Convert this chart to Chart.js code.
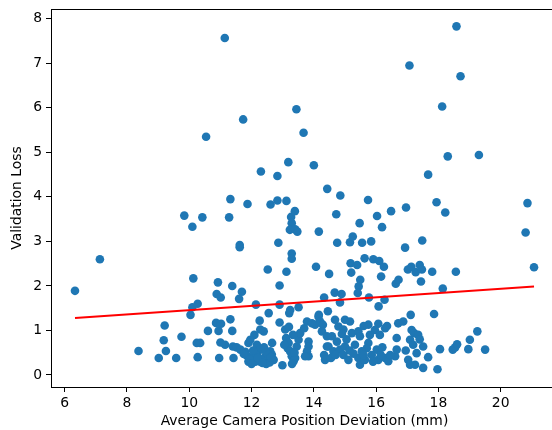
<!DOCTYPE html>
<html>
<head>
<meta charset="utf-8">
<script src="https://cdn.jsdelivr.net/npm/chart.js@4/dist/chart.umd.min.js"></script>
<style>
  html, body { margin: 0; padding: 0; background: #fff; overflow: hidden; }
  #wrap { width: 552px; height: 430px; overflow: hidden; position: relative; }
  canvas { display: block; }
</style>
</head>
<body>
<div id="wrap"><canvas id="c" width="600" height="430"></canvas></div>
<script>
// Camera position deviation (mm) for each run
const deviation = [
  6.33, 7.13, 8.37, 9.02, 9.21, 9.18, 9.25, 9.58, 9.75, 9.84,
  10.10, 10.04, 10.10, 10.13, 10.27, 10.24, 10.35, 10.27, 10.42, 10.54,
  10.60, 10.92, 10.88, 11.01, 10.86, 11.02, 10.94, 11.00, 11.15, 10.96,
  11.14, 11.28, 11.32, 11.32, 11.38, 11.38, 11.42, 11.40, 11.62, 11.62,
  11.69, 11.60, 11.73, 11.87, 11.52, 11.64, 11.80, 11.85, 11.90, 11.90,
  12.14, 12.09, 12.30, 12.26, 12.39, 12.52, 12.55, 12.61, 12.66, 12.83,
  12.83, 12.86, 12.90, 12.90, 12.90, 12.99, 13.12, 13.12, 13.18, 13.27,
  13.29, 13.39, 13.23, 13.40, 13.47, 13.29, 13.29, 13.44, 13.67, 14.00,
  13.21, 13.24, 13.51, 14.16, 14.07, 14.43, 14.85, 14.72, 14.75, 14.49,
  14.33, 14.45, 14.67, 14.84, 14.89, 15.47, 15.16, 15.25, 15.55, 15.84,
  15.74, 16.03, 16.19, 16.48, 15.18, 15.39, 15.63, 15.91, 16.10, 16.25,
  15.20, 15.49, 15.44, 15.41, 15.77, 16.16, 16.27, 16.08, 16.63, 16.72,
  16.93, 16.96, 17.07, 17.02, 17.13, 17.27, 17.40, 17.47, 17.44, 17.48,
  17.67, 17.80, 17.94, 18.12, 18.22, 18.14, 18.30, 17.86, 18.58, 18.71,
  18.56, 19.30, 20.80, 20.86, 21.07, 17.11, 14.16,
  11.96, 12.28, 12.17, 12.28, 12.17, 12.12, 12.28, 12.44, 12.55, 12.47,
  12.65, 12.71, 12.60, 13.08, 13.11, 13.19, 13.16, 13.24, 13.29, 13.35,
  13.40, 13.45, 13.51, 13.56, 13.69, 13.78, 13.94, 14.04, 14.15, 14.20,
  14.29, 14.26, 14.42, 13.83, 13.83, 13.78, 13.83, 13.72, 14.42, 14.33,
  14.36, 12.02, 12.38, 12.58,
  14.68, 15.00, 15.16, 14.79, 14.95, 15.22, 15.43, 15.48, 15.75, 16.07,
  16.29, 15.96, 15.80, 16.12, 14.58, 14.74, 14.47, 14.63, 14.84, 15.11,
  15.00, 15.75, 15.70, 16.02, 15.86, 15.43, 15.48, 15.64, 16.07, 16.29,
  16.39, 16.61, 16.66, 16.66, 16.71, 16.87, 17.14, 17.22, 17.35, 17.09,
  17.19, 17.51, 17.30, 17.03, 17.09, 17.25, 17.51, 17.67, 17.97, 18.05,
  18.46, 18.54, 18.60, 18.96, 19.01, 19.25, 19.50,
  15.32, 15.54, 15.27, 14.95, 16.20, 16.45, 16.95, 17.40,
  11.75, 11.95, 12.05, 12.20, 12.35, 12.50, 12.62, 12.40, 12.00, 13.30,
  13.38, 13.05, 13.33, 13.20, 14.55, 14.70, 14.90, 15.05, 15.60, 15.90,
  16.15, 16.35, 15.60, 15.15
];

// Validation loss for each run (same order)
const valLoss = [
  1.89, 2.60, 0.54, 0.38, 1.11, 0.78, 0.54, 0.38, 0.86, 3.58,
  3.33, 1.35, 1.52, 2.17, 1.60, 0.72, 0.72, 0.40, 3.54, 5.35,
  0.99, 2.08, 1.82, 1.74, 1.17, 1.15, 0.99, 0.73, 0.68, 0.38,
  7.57, 3.54, 3.95, 1.25, 0.99, 2.00, 0.38, 0.64, 2.92, 2.87,
  1.87, 1.71, 5.74, 3.84, 0.62, 0.57, 0.52, 0.43, 0.30, 0.72,
  1.58, 0.90, 4.57, 1.22, 0.98, 2.37, 1.39, 3.83, 0.72, 4.47,
  3.92, 2.97, 2.01, 1.58, 1.18, 0.22, 3.91, 2.32, 4.78, 3.55,
  3.41, 3.68, 3.26, 3.27, 3.22, 2.73, 2.61, 5.97, 5.44, 4.71,
  1.39, 1.46, 1.52, 3.22, 2.43, 4.18, 4.03, 3.61, 2.97, 2.27,
  1.74, 1.43, 1.85, 1.63, 1.82, 3.41, 2.98, 3.11, 2.97, 3.00,
  3.93, 3.57, 3.32, 3.68, 2.51, 2.47, 2.62, 2.60, 2.56, 2.43,
  2.30, 2.14, 1.99, 1.84, 1.74, 2.21, 1.69, 1.54, 2.05, 2.14,
  2.86, 3.76, 6.95, 2.37, 2.43, 2.31, 2.47, 2.37, 2.10, 3.02,
  4.50, 2.32, 3.88, 6.03, 3.65, 1.94, 4.91, 1.37, 7.83, 6.71,
  2.32, 4.94, 3.20, 3.86, 2.42, 1.35, 1.35,
  0.79, 1.02, 0.68, 0.57, 0.45, 0.30, 0.30, 0.42, 0.34, 0.25,
  0.46, 0.34, 0.53, 1.02, 0.83, 0.72, 0.60, 0.53, 0.42, 0.31,
  0.38, 0.64, 0.79, 0.94, 1.05, 1.20, 1.16, 1.13, 1.31, 1.20,
  1.13, 0.98, 0.87, 0.75, 0.64, 0.53, 0.42, 0.42, 0.64, 0.45,
  0.34, 0.40, 0.36, 0.28,
  1.24, 1.24, 1.20, 1.09, 1.02, 0.94, 0.98, 0.87, 1.13, 1.15,
  1.05, 1.01, 0.90, 0.90, 0.87, 0.75, 0.64, 0.53, 0.57, 0.34,
  0.64, 0.72, 0.60, 0.57, 0.45, 0.38, 0.23, 0.34, 0.34, 0.38,
  0.31, 0.42, 0.57, 0.83, 1.16, 1.20, 1.01, 0.94, 0.90, 0.79,
  0.68, 0.64, 0.49, 0.34, 0.23, 0.23, 0.16, 0.40, 0.13, 0.58,
  0.57, 0.62, 0.69, 0.58, 0.79, 0.98, 0.57,
  0.68, 0.53, 0.48, 0.45, 0.62, 0.45, 0.55, 0.80,
  0.47, 0.35, 0.55, 0.38, 0.27, 0.48, 0.40, 0.62, 0.25, 0.25,
  0.50, 0.68, 0.90, 1.08, 0.38, 0.45, 0.92, 0.80, 0.45, 0.30,
  0.45, 1.10, 1.10, 0.55
];

// Least-squares trend line end points
const trendX = [6.33, 21.07];
const trendY = [1.28, 1.99];

const xTicks = [6, 8, 10, 12, 14, 16, 18, 20];
const yTicks = [0, 1, 2, 3, 4, 5, 6, 7, 8];

const points = deviation.map((x, i) => ({ x: x, y: valLoss[i] }));
const trend = trendX.map((x, i) => ({ x: x, y: trendY[i] }));

const FONT = { family: 'DejaVu Sans', size: 13.9 };
const INK = '#000000';

// Top and right spines of the axes frame
const frame = {
  id: 'frame',
  afterDraw(chart) {
    const { ctx, chartArea: a } = chart;
    ctx.save();
    ctx.strokeStyle = INK;
    ctx.lineWidth = 1;
    ctx.beginPath();
    ctx.moveTo(a.left, Math.round(a.top) + 0.5);
    ctx.lineTo(a.right, Math.round(a.top) + 0.5);
    ctx.moveTo(a.right - 0.5, a.top);
    ctx.lineTo(a.right - 0.5, a.bottom);
    ctx.stroke();
    ctx.restore();
  }
};

new Chart(document.getElementById('c'), {
  type: 'scatter',
  data: {
    datasets: [
      {
        type: 'line',
        data: trend,
        borderColor: '#ff0000',
        borderWidth: 2,
        pointRadius: 0,
        fill: false,
        order: 0
      },
      {
        data: points,
        backgroundColor: '#1f77b4',
        borderWidth: 0,
        pointRadius: 4.3,
        pointHoverRadius: 4.3,
        order: 1
      }
    ]
  },
  options: {
    responsive: false,
    animation: false,
    events: [],
    layout: { padding: { top: 9, right: 42, bottom: 0, left: 0 } },
    plugins: { legend: { display: false }, tooltip: { enabled: false } },
    scales: {
      x: {
        type: 'linear',
        min: 5.56,
        max: 21.84,
        afterBuildTicks(s) { s.ticks = xTicks.map(v => ({ value: v })); },
        afterFit(s) { s.height = 43; s.paddingLeft = 0; s.paddingRight = 0; },
        grid: { drawOnChartArea: false, drawTicks: true, tickLength: 5, tickWidth: 1, color: INK },
        border: { display: true, color: INK, width: 1 },
        ticks: { color: INK, font: FONT, padding: 3, maxRotation: 0, autoSkip: false },
        title: {
          display: true,
          text: 'Average Camera Position Deviation (mm)',
          color: INK,
          font: FONT,
          padding: { top: 0, bottom: 0 }
        }
      },
      y: {
        type: 'linear',
        min: -0.27,
        max: 8.22,
        afterBuildTicks(s) { s.ticks = yTicks.map(v => ({ value: v })); },
        afterFit(s) { s.width = 51; s.paddingTop = 0; s.paddingBottom = 0; },
        grid: { drawOnChartArea: false, drawTicks: true, tickLength: 5, tickWidth: 1, color: INK },
        border: { display: true, color: INK, width: 1 },
        ticks: { color: INK, font: FONT, padding: 4, autoSkip: false },
        title: {
          display: true,
          text: 'Validation Loss',
          color: INK,
          font: FONT,
          padding: { top: 9, bottom: 0 }
        }
      }
    }
  },
  plugins: [frame]
});
</script>
</body>
</html>
